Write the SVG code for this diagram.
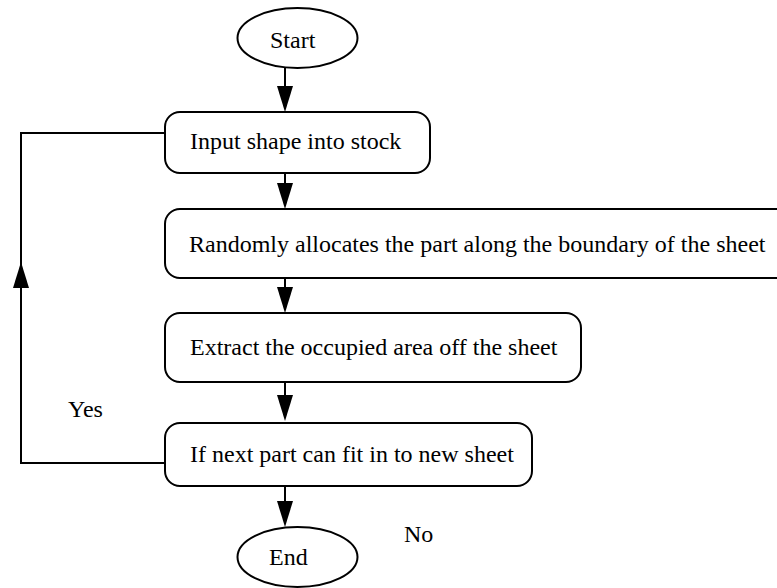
<svg xmlns="http://www.w3.org/2000/svg" width="777" height="588" viewBox="0 0 777 588">
  <style>
    .box { fill: #fff; stroke: #000; stroke-width: 2; }
    .wire { fill: none; stroke: #000; stroke-width: 2; }
    .head { fill: #000; stroke: none; }
    .lbl { font-family: 'Liberation Serif', 'Times New Roman', serif; font-size: 24px; fill: #000; }
  </style>
  <defs>
    <!-- downward arrowhead, tip at origin -->
    <polygon id="down" class="head" points="-8,-26 8,-26 0,0"/>
  </defs>
  <rect width="777" height="588" fill="#fff"/>

  <g id="connectors">
    <line class="wire" x1="285" y1="68" x2="285" y2="90"/>
    <use href="#down" x="285" y="112"/>
    <line class="wire" x1="285" y1="173" x2="285" y2="190"/>
    <use href="#down" x="285" y="209"/>
    <line class="wire" x1="285" y1="278" x2="285" y2="290"/>
    <use href="#down" x="285" y="313"/>
    <line class="wire" x1="285" y1="382" x2="285" y2="398"/>
    <use href="#down" x="285" y="421"/>
    <line class="wire" x1="285" y1="486" x2="285" y2="505"/>
    <use href="#down" x="285" y="527"/>
    <!-- loop back to the input step -->
    <polyline class="wire" points="165,463 21,463 21,133 165,133"/>
    <polygon class="head" points="13,288 29,288 21,262"/>
    <text class="lbl" x="68" y="417">Yes</text>
    <text class="lbl" x="404" y="542">No</text>
  </g>

  <g id="start">
    <ellipse class="box" cx="297.5" cy="38" rx="60" ry="30"/>
    <text class="lbl" x="270" y="48">Start</text>
  </g>
  <g id="input">
    <rect class="box" x="165" y="112" width="265" height="61" rx="15"/>
    <text class="lbl" x="190" y="149">Input shape into stock</text>
  </g>
  <g id="allocate">
    <rect class="box" x="165" y="209" width="640" height="69" rx="15"/>
    <text class="lbl" x="189" y="252">Randomly allocates the part along the boundary of the sheet</text>
  </g>
  <g id="extract">
    <rect class="box" x="165" y="313" width="416" height="69" rx="15"/>
    <text class="lbl" x="190" y="355">Extract the occupied area off the sheet</text>
  </g>
  <g id="fit">
    <rect class="box" x="165" y="423" width="367" height="63" rx="15"/>
    <text class="lbl" x="190" y="462">If next part can fit in to new sheet</text>
  </g>
  <g id="end">
    <ellipse class="box" cx="297.5" cy="557" rx="60" ry="30"/>
    <text class="lbl" x="269" y="565">End</text>
  </g>
</svg>
